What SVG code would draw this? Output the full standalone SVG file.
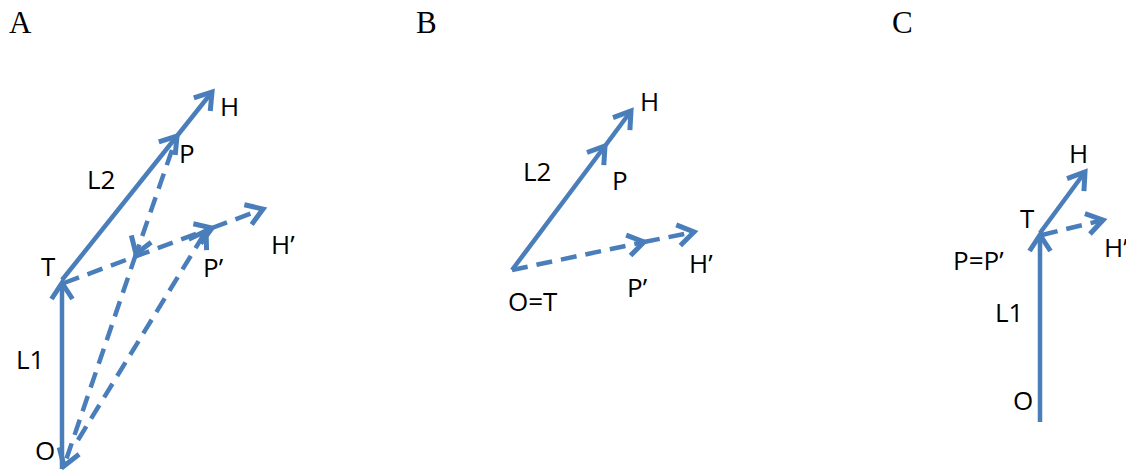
<svg xmlns="http://www.w3.org/2000/svg" width="1126" height="470" viewBox="0 0 1126 470">
<style>
.ln{fill:none;stroke:#4a7ebb;stroke-width:4.5;marker-end:url(#arr)}
.d{stroke-dasharray:16 9}
.lbl{font-family:"Open Sans","Liberation Sans",sans-serif;font-size:26px;fill:#000}
.pl{font-family:"Liberation Serif","Times New Roman",serif;font-size:31px;fill:#000}
</style>
<defs>
<marker id="arr" markerUnits="userSpaceOnUse" markerWidth="40" markerHeight="40" viewBox="-20 -20 40 40" refX="0" refY="0" orient="auto" overflow="visible">
<path d="M-16,-10.5 L0,0 L-16,10.5" fill="none" stroke="#4a7ebb" stroke-width="5" stroke-linejoin="miter"/>
</marker>
</defs>
<rect width="1126" height="470" fill="#fff"/>
<g id="panel-labels">
<text class="pl" x="9" y="33">A</text>
<text class="pl" x="416" y="33">B</text>
<text class="pl" x="892" y="33">C</text>
</g>
<g id="connectors">
<!-- Panel A -->
<path class="ln" d="M62,469 L62,283"/>
<path class="ln" d="M62,280 L177,136"/>
<path class="ln" d="M177,136 L212,92"/>
<path class="ln d" d="M172,150 L136,254"/>
<path class="ln d" d="M136,254 L64,466"/>
<path class="ln d" d="M78,440 L206,231"/>
<path class="ln d" d="M64,283 L212,228"/>
<path class="ln d" d="M212,228 L263,209"/>
<!-- Panel B -->
<path class="ln" d="M512,270 L605,146"/>
<path class="ln" d="M605,146 L631,111"/>
<path class="ln d" d="M512,270 L644,242"/>
<path class="ln d" d="M644,242 L694,232"/>
<!-- Panel C -->
<path class="ln" d="M1040,422 L1040,235"/>
<path class="ln" d="M1040,233 L1085,172"/>
<path class="ln d" d="M1042,235 L1103,220"/>
</g>
<g id="node-A-H"><text class="lbl" x="220" y="116">H</text></g>
<g id="node-A-P"><text class="lbl" x="179" y="163">P</text></g>
<g id="node-A-L2"><text class="lbl" x="87" y="189">L2</text></g>
<g id="node-A-T"><text class="lbl" x="41" y="276">T</text></g>
<g id="node-A-H2"><text class="lbl" x="271" y="254">H’</text></g>
<g id="node-A-P2"><text class="lbl" x="203" y="277">P’</text></g>
<g id="node-A-L1"><text class="lbl" x="16" y="369">L1</text></g>
<g id="node-A-O"><text class="lbl" x="35" y="460">O</text></g>
<g id="node-B-H"><text class="lbl" x="640" y="111">H</text></g>
<g id="node-B-L2"><text class="lbl" x="523" y="181">L2</text></g>
<g id="node-B-P"><text class="lbl" x="612" y="190">P</text></g>
<g id="node-B-H2"><text class="lbl" x="689" y="273">H’</text></g>
<g id="node-B-P2"><text class="lbl" x="627" y="297">P’</text></g>
<g id="node-B-OT"><text class="lbl" x="508" y="311">O=T</text></g>
<g id="node-C-H"><text class="lbl" x="1069" y="163">H</text></g>
<g id="node-C-T"><text class="lbl" x="1020" y="228">T</text></g>
<g id="node-C-H2"><text class="lbl" x="1104" y="257">H’</text></g>
<g id="node-C-PP"><text class="lbl" x="953" y="270">P=P’</text></g>
<g id="node-C-L1"><text class="lbl" x="995" y="322">L1</text></g>
<g id="node-C-O"><text class="lbl" x="1013" y="410">O</text></g>
</svg>
